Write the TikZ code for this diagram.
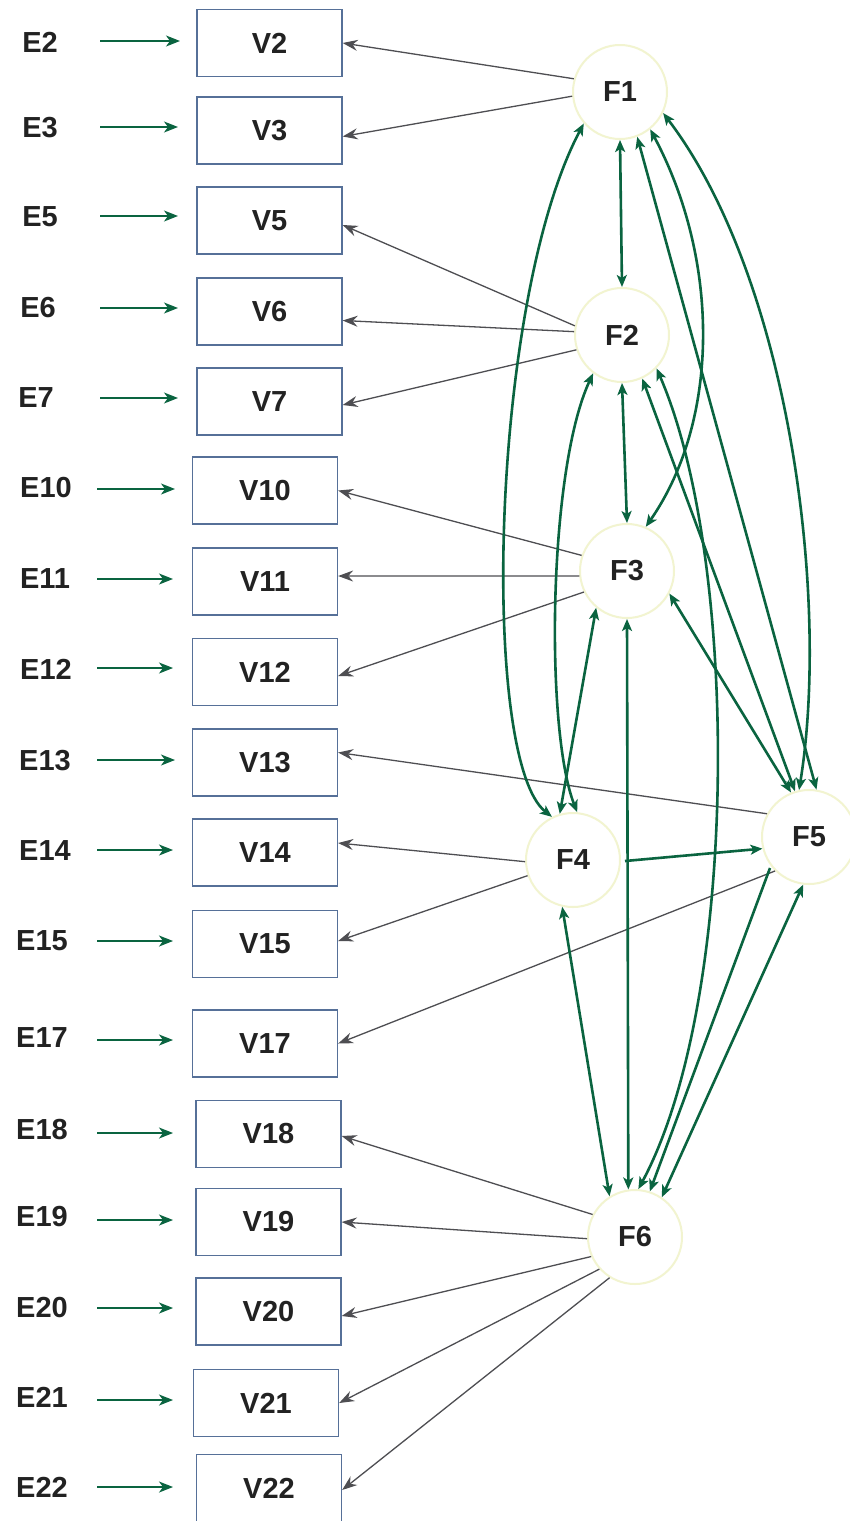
\documentclass[tikz,border=0pt]{standalone}
\usepackage{fontspec}
\setmainfont{Liberation Sans}
\usetikzlibrary{arrows.meta}
\definecolor{pathgreen}{RGB}{10,100,64}
\definecolor{loadgray}{RGB}{78,78,82}
\definecolor{boxblue}{RGB}{86,112,152}
\definecolor{factorrim}{RGB}{242,244,208}
\definecolor{labelink}{RGB}{34,34,34}
\begin{document}
\begin{tikzpicture}[x=1pt,y=-1pt,
  lbl/.style={font=\fontsize{29}{34}\selectfont\bfseries, text=labelink, inner sep=0pt},
  obsbox/.style={draw=boxblue, line width=1.3pt, minimum width=145pt, minimum height=67pt, inner sep=0pt, lbl},
  factor/.style={circle, draw=factorrim, line width=2pt, minimum size=94pt, inner sep=0pt, lbl},
  errarrow/.style={draw=pathgreen, line width=1.3pt, -{Stealth[length=14pt,width=11pt,inset=4pt]}},
  loading/.style={draw=loadgray, line width=1.3pt, -{Stealth[length=15pt,width=11pt,inset=5pt]}},
  cov/.style={draw=pathgreen, line width=2.6pt, {Stealth[length=12pt,width=10pt,inset=3pt]}-{Stealth[length=12pt,width=10pt,inset=3pt]}},
  onecov/.style={draw=pathgreen, line width=2.6pt, -{Stealth[length=12pt,width=10pt,inset=3pt]}},
]
\fill[white] (0,0) rectangle (849,1521);
\useasboundingbox (0,0) rectangle (849,1521);

% error terms, their arrows and the observed variables
\foreach \n/\ex/\ey/\ax/\bx/\ay/\vx/\vy in {
  2/40/42/100/180/41/269.5/43,
  3/40/128/100/178/127/269.5/130.5,
  5/40/217/100/178/216/269.5/220.5,
  6/38/308/100/178/308/269.5/311.5,
  7/36/398/100/178/398/269.5/401.5,
  10/46/488/97/175/489/265/490.5,
  11/45/579/97/173/579/265/581.5,
  12/46/669/97/173/668/265/672,
  13/45/761/97/175/760/265/762.5,
  14/45/851/97/173/850/265/852.5,
  15/42/941/97/173/941/265/944,
  17/42/1038/97/173/1040/265/1043.5,
  18/42/1130/97/173/1133/268.5/1134,
  19/42/1217/97/173/1220/268.5/1222,
  20/42/1307/97/173/1308/268.5/1311.5,
  21/42/1397/97/173/1400/266/1403,
  22/42/1487/97/173/1487/269/1488}{
  \node[lbl] (E\n) at (\ex,\ey) {E\n};
  \node[obsbox] (V\n) at (\vx,\vy) {V\n};
  \coordinate (ea\n) at (\ax,\ay);
  \coordinate (eb\n) at (\bx,\ay);
  \draw[errarrow] (ea\n) -- (eb\n);
}

% latent factors
\node[factor] (F1) at (620,92) {F1};
\node[factor] (F2) at (622,335) {F2};
\node[factor] (F3) at (627,571) {F3};
\node[factor] (F4) at (573,860) {F4};
\node[factor] (F5) at (809,837) {F5};
\node[factor] (F6) at (635,1237) {F6};

% factor loadings
\draw[loading] (F1.164) -- (V2.east);
\draw[loading] (F1.185) -- ([yshift=-6pt]V3.east);
\draw[loading] (F2.169) -- ([yshift=-4.5pt]V5.east);
\draw[loading] (F2.176) -- ([yshift=-9pt]V6.east);
\draw[loading] (F2.198) -- ([yshift=-3.5pt]V7.east);
\draw[loading] (F3.161) -- (V10.east);
\draw[loading] (F3.186) -- ([yshift=5.5pt]V11.east);
\draw[loading] (F3.206) -- ([yshift=-4pt]V12.east);
\draw[loading] (F5.151) -- ([yshift=10pt]V13.east);
\draw[loading] (F4.182) -- ([yshift=9.5pt]V14.east);
\draw[loading] (F4.199) -- ([yshift=3pt]V15.east);
\draw[loading] (F5.225) -- (V17.east);
\draw[loading] (F6.152) -- ([yshift=-2pt]V18.east);
\draw[loading] (F6.182) -- (V19.east);
\draw[loading] (F6.204) -- ([yshift=-4.5pt]V20.east);
\draw[loading] (F6.222) -- (V21.east);
\draw[loading] (F6.238) -- ([yshift=-2pt]V22.east);

% factor covariances
\draw[cov] (F1.south) -- (F2.north);
\draw[cov] (F2.south) -- (F3.north);
\draw[cov] (F1.221) .. controls (490,300) and (480,760) .. (F4.116);
\draw[cov] (F2.233) .. controls (548,470) and (545,730) .. (F4.85);
\draw[cov] (F3.230) -- (F4.106);
\draw[cov] (F1.309) .. controls (720,260) and (720,420) .. (F3.67);
\draw[cov] (F1.334) .. controls (790,280) and (830,600) .. (F5.102);
\draw[cov] (F1.291) -- (F5.81);
\draw[cov] (F2.295) -- (F5.107);
\draw[cov] (F3.332) -- (F5.112);
\draw[cov] (F2.316) .. controls (740,560) and (740,1000) .. (F6.86);
\draw[cov] (F3.south) -- (F6.98);
\draw[cov] (F4.257) -- (F6.122);
\draw[cov] (F5.263) -- (F6.56);
\coordinate (f5low) at (770,868);
\draw[onecov] (f5low) -- (F6.72.5);
\coordinate (f4right) at (625,861);
\draw[onecov] (f4right) -- (F5.194);
\end{tikzpicture}
\end{document}
